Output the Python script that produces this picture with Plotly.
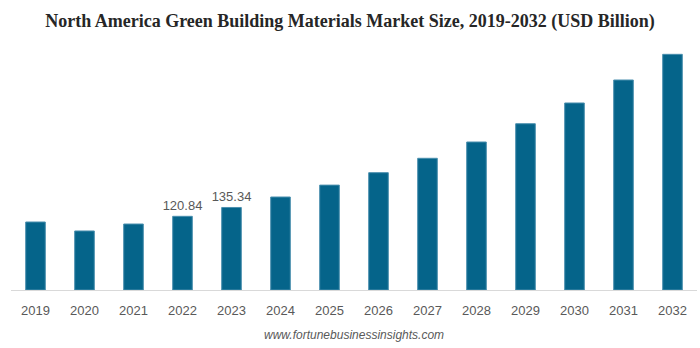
import plotly.graph_objects as go

years = ["2019", "2020", "2021", "2022", "2023", "2024", "2025", "2026",
         "2027", "2028", "2029", "2030", "2031", "2032"]
values = [111.5, 96.8, 108.2, 120.84, 135.34, 152.5, 172.0, 192.4,
          216.0, 242.7, 272.7, 306.7, 344.4, 386.5]
labels = ["", "", "", "120.84", "135.34", "", "", "", "", "", "", "", "", ""]

fig = go.Figure()
fig.add_trace(go.Bar(
    x=years, y=values, text=labels, textposition="outside",
    constraintext="none",
    textfont=dict(family="Liberation Sans, Arial", size=13, color="#595959"),
    marker=dict(color="#05648A", line=dict(color="#4a8fae", width=1)),
    cliponaxis=False, hoverinfo="skip",
))
fig.update_layout(
    width=700, height=348,
    margin=dict(l=11, r=3, t=40, b=58),
    paper_bgcolor="white", plot_bgcolor="white",
    bargap=0.6, showlegend=False, uniformtext=dict(mode=False),
    title=dict(
        text="<b>North America Green Building Materials Market Size, 2019-2032 (USD Billion)</b>",
        x=0.5, xanchor="center", y=0.94, yanchor="middle",
        font=dict(family="Liberation Serif, Times New Roman", size=18, color="#262626"),
    ),
    xaxis=dict(
        showline=True, linecolor="#d9d9d9", linewidth=1, ticks="",
        showgrid=False, ticklabelstandoff=8,
        tickfont=dict(family="Liberation Sans, Arial", size=13, color="#595959"),
    ),
    yaxis=dict(range=[0, 410], visible=False, showgrid=False),
    annotations=[dict(
        text="<i>www.fortunebusinessinsights.com</i>",
        x=0.5, xref="paper", y=-0.18, yref="paper", yanchor="middle",
        xanchor="center", showarrow=False,
        font=dict(family="Liberation Sans, Arial", size=12, color="#595959"),
    )],
)
fig.write_html("out.html")
